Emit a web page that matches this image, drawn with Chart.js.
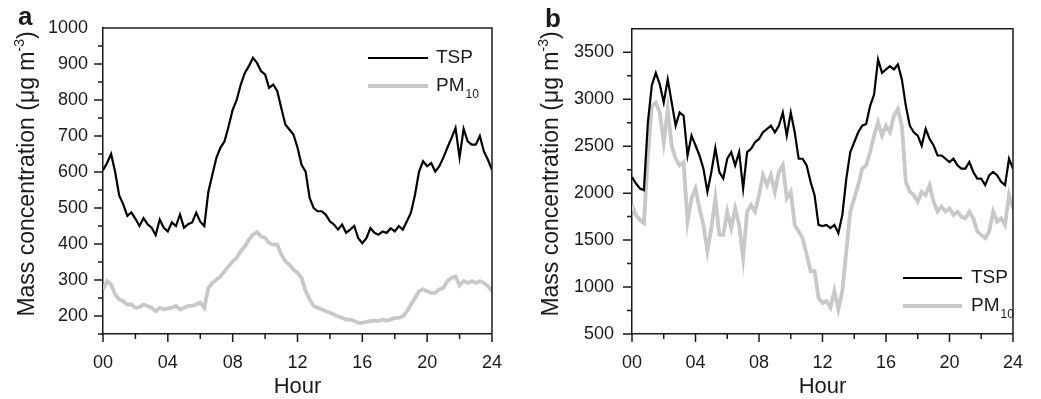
<!DOCTYPE html>
<html>
<head>
<meta charset="utf-8">
<script src="https://cdn.jsdelivr.net/npm/chart.js"></script>
<style>
  body { margin: 0; background: #fff; }
  #wrapA { position: absolute; left: 0; top: 0; }
  #wrapB { position: absolute; left: 520px; top: 0; }
</style>
</head>
<body>
<div id="wrapA"><canvas id="chartA" width="520" height="399"></canvas></div>
<div id="wrapB"><canvas id="chartB" width="521" height="399"></canvas></div>
<script>
// hour of day, 15 min steps
var hours = [0, 0.25, 0.5, 0.75, 1, 1.25, 1.5, 1.75, 2, 2.25, 2.5, 2.75, 3, 3.25, 3.5, 3.75,
  4, 4.25, 4.5, 4.75, 5, 5.25, 5.5, 5.75, 6, 6.25, 6.5, 6.75, 7, 7.25, 7.5, 7.75,
  8, 8.25, 8.5, 8.75, 9, 9.25, 9.5, 9.75, 10, 10.25, 10.5, 10.75, 11, 11.25, 11.5, 11.75,
  12, 12.25, 12.5, 12.75, 13, 13.25, 13.5, 13.75, 14, 14.25, 14.5, 14.75, 15, 15.25, 15.5, 15.75,
  16, 16.25, 16.5, 16.75, 17, 17.25, 17.5, 17.75, 18, 18.25, 18.5, 18.75, 19, 19.25, 19.5, 19.75,
  20, 20.25, 20.5, 20.75, 21, 21.25, 21.5, 21.75, 22, 22.25, 22.5, 22.75, 23, 23.25, 23.5, 23.75, 24];

// panel a
var tspA = [605, 625, 650, 600, 535, 510, 478, 488, 470, 450, 472, 455, 445, 425, 468, 445,
  435, 460, 450, 482, 445, 455, 460, 487, 462, 450, 545, 593, 640, 668, 685, 727,
  773, 800, 843, 875, 894, 917, 903, 880, 871, 834, 843, 825, 778, 732, 718, 704,
  668, 620, 601, 528, 500, 491, 491, 481, 463, 454, 440, 454, 431, 440, 450, 416,
  402, 416, 444, 431, 426, 435, 431, 444, 435, 450, 440, 463, 487, 537, 601, 630,
  616, 625, 601, 616, 640, 668, 694, 722, 640, 720, 685, 676, 676, 700, 657, 634, 606];
var pmA = [274, 297, 287, 260, 246, 241, 232, 232, 223, 225, 232, 228, 223, 213, 223, 218,
  221, 223, 228, 218, 223, 228, 228, 232, 237, 223, 278, 292, 301, 310, 324, 338,
  352, 361, 380, 393, 412, 426, 433, 421, 417, 403, 398, 398, 371, 352, 343, 329,
  320, 306, 269, 246, 228, 223, 218, 213, 209, 204, 199, 195, 190, 190, 186, 181,
  181, 184, 186, 187, 186, 190, 187, 190, 195, 195, 199, 213, 232, 250, 269, 274,
  269, 264, 264, 274, 278, 297, 306, 310, 285, 297, 292, 297, 292, 297, 292, 283, 269];

// panel b
var tspB = [2172, 2102, 2049, 2032, 2754, 3150, 3280, 3158, 2965, 3211, 2965, 2718, 2859, 2824, 2401, 2613,
  2507, 2401, 2261, 2014, 2225, 2480, 2225, 2155, 2366, 2437, 2296, 2437, 2049, 2437, 2472, 2542,
  2577, 2648, 2683, 2718, 2648, 2718, 2859, 2613, 2859, 2648, 2366, 2366, 2296, 2120, 1979, 1662,
  1650, 1662, 1627, 1662, 1574, 1768, 2155, 2437, 2542, 2648, 2718, 2736, 2930, 3050, 3423, 3282,
  3317, 3352, 3317, 3370, 3211, 2930, 2718, 2648, 2613, 2507, 2683, 2577, 2507, 2401, 2401, 2366,
  2331, 2366, 2296, 2261, 2261, 2331, 2225, 2155, 2155, 2085, 2190, 2225, 2190, 2120, 2085, 2366, 2261];
var pmB = [1873, 1768, 1715, 1680, 2401, 2930, 2965, 2859, 2542, 2894, 2507, 2366, 2296, 2331, 1697, 1944,
  2049, 1838, 1662, 1380, 1627, 1944, 1556, 1556, 1803, 1627, 1838, 1662, 1310, 1803, 1873, 1803,
  1979, 2190, 2085, 2190, 2014, 2225, 2296, 1944, 2014, 1662, 1592, 1521, 1345, 1169, 1169, 887,
  830, 852, 782, 958, 764, 958, 1380, 1803, 1944, 2085, 2261, 2296, 2437, 2613, 2754, 2613,
  2718, 2648, 2824, 2894, 2718, 2120, 2014, 1979, 1908, 2014, 1979, 2085, 1908, 1803, 1856, 1803,
  1838, 1768, 1803, 1750, 1732, 1803, 1732, 1592, 1556, 1521, 1592, 1803, 1697, 1732, 1662, 1979, 1838];

var FONT = "'Liberation Sans', Arial, sans-serif";
var INK = '#1a1a1a';

// frame, outward ticks, axis titles, panel letter and legend
var decorPlugin = {
  id: 'decor',
  afterDraw: function (chart, args, o) {
    var ctx = chart.ctx, a = chart.chartArea;
    var xs = chart.scales.x, ys = chart.scales.y;
    ctx.save();
    ctx.strokeStyle = INK;
    ctx.lineWidth = 1.5;
    ctx.beginPath();
    ctx.moveTo(a.left, a.top);
    ctx.lineTo(a.right, a.top);
    ctx.lineTo(a.right, a.bottom);
    ctx.stroke();

    ctx.beginPath();
    for (var h = 0; h <= 24; h += 2) {
      var px = xs.getPixelForValue(h);
      ctx.moveTo(px, a.bottom);
      ctx.lineTo(px, a.bottom + (h % 4 == 0 ? 8 : 5));
    }
    for (var v = ys.min; v < ys.max; v += o.minor) {
      var py = ys.getPixelForValue(v);
      ctx.moveTo(a.left, py);
      ctx.lineTo(a.left - (v % o.major == 0 ? 9 : 5), py);
    }
    ctx.stroke();

    ctx.fillStyle = INK;
    // x title
    ctx.font = '22px ' + FONT;
    ctx.textAlign = 'center';
    ctx.textBaseline = 'alphabetic';
    ctx.fillText('Hour', (a.left + a.right) / 2, 393);

    // y title with superscript
    var t1 = 'Mass concentration (\u03bcg m', sup = '-3', t2 = ')';
    ctx.font = '23px ' + FONT;
    var w1 = ctx.measureText(t1).width, w2 = ctx.measureText(t2).width;
    ctx.font = '14px ' + FONT;
    var ws = ctx.measureText(sup).width;
    var total = w1 + ws + w2;
    ctx.translate(o.titleX, o.titleY);
    ctx.rotate(-Math.PI / 2);
    ctx.textAlign = 'left';
    ctx.font = '23px ' + FONT;
    ctx.fillText(t1, -total / 2, 0);
    ctx.font = '14px ' + FONT;
    ctx.fillText(sup, -total / 2 + w1, -10);
    ctx.font = '23px ' + FONT;
    ctx.fillText(t2, -total / 2 + w1 + ws, 0);
    ctx.setTransform(1, 0, 0, 1, 0, 0);

    // panel letter
    ctx.font = 'bold 26px ' + FONT;
    ctx.fillText(o.letter, o.letterX, o.letterY);

    // legend
    var L = o.legend;
    ctx.lineWidth = 2.2;
    ctx.strokeStyle = '#000';
    ctx.beginPath();
    ctx.moveTo(L.x1, L.y1); ctx.lineTo(L.x2, L.y1);
    ctx.stroke();
    ctx.lineWidth = 4;
    ctx.strokeStyle = '#c8c8c8';
    ctx.beginPath();
    ctx.moveTo(L.x1, L.y2); ctx.lineTo(L.x2, L.y2);
    ctx.stroke();
    ctx.textBaseline = 'middle';
    ctx.font = '19px ' + FONT;
    ctx.fillText('TSP', L.tx, L.y1);
    ctx.fillText('PM', L.tx, L.y2);
    var wpm = ctx.measureText('PM').width;
    ctx.font = '12px ' + FONT;
    ctx.fillText('10', L.tx + wpm + 1, L.y2 + 9);
    ctx.restore();
  }
};

function makeChart(id, tsp, pm, yMin, yMax, yMinor, yMajor, yWidth, padRight, padTop, labelPad, deco) {
  var ctx = document.getElementById(id).getContext('2d');
  deco.minor = yMinor;
  deco.major = yMajor;
  return new Chart(ctx, {
    type: 'line',
    data: {
      datasets: [{
        label: 'TSP',
        data: hours.map(function (h, i) { return { x: h, y: tsp[i] }; }),
        borderColor: '#000',
        borderWidth: 2.2,
        pointRadius: 0,
        tension: 0
      }, {
        label: 'PM10',
        data: hours.map(function (h, i) { return { x: h, y: pm[i] }; }),
        borderColor: '#c8c8c8',
        borderWidth: 3.8,
        pointRadius: 0,
        tension: 0
      }]
    },
    options: {
      responsive: false,
      animation: false,
      layout: { padding: { left: 0, top: padTop, right: padRight, bottom: 0 } },
      plugins: { legend: { display: false }, tooltip: { enabled: false }, decor: deco },
      scales: {
        x: {
          type: 'linear',
          min: 0,
          max: 24,
          afterFit: function (s) { s.height = 65; },
          grid: { display: false, drawTicks: false },
          border: { display: true, color: INK, width: 1.5 },
          ticks: {
            stepSize: 2,
            padding: 18,
            color: INK,
            font: { family: FONT, size: 18 },
            maxRotation: 0,
            autoSkip: false,
            callback: function (v) { return v % 4 == 0 ? String(v).padStart(2, '0') : ''; }
          }
        },
        y: {
          min: yMin,
          max: yMax,
          afterFit: function (s) { s.width = yWidth; },
          grid: { display: false, drawTicks: false },
          border: { display: true, color: INK, width: 1.5 },
          ticks: {
            stepSize: yMinor,
            padding: labelPad,
            color: INK,
            font: { family: FONT, size: 18 },
            autoSkip: false,
            callback: function (v) { return v % yMajor == 0 ? String(v) : ''; }
          }
        }
      }
    },
    plugins: [decorPlugin]
  });
}

makeChart('chartA', tspA, pmA, 150, 1000, 50, 100, 103, 16, 28, 15, {
  titleX: 34, titleY: 174, letter: 'a', letterX: 18, letterY: 25,
  legend: { x1: 368, x2: 428, y1: 58, y2: 86, tx: 436 }
});
makeChart('chartB', tspB, pmB, 500, 3750, 250, 500, 112, 9, 27, 18, {
  titleX: 38, titleY: 174, letter: 'b', letterX: 25, letterY: 27,
  legend: { x1: 383, x2: 442, y1: 278, y2: 306, tx: 451 }
});
</script>
</body>
</html>
